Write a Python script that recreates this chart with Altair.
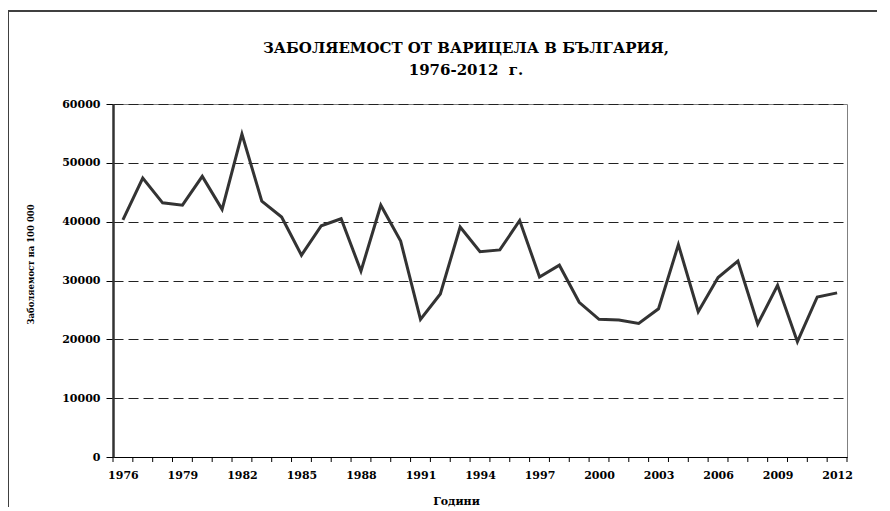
import altair as alt
import pandas as pd

years = list(range(1976, 2013))
incidence = [40300, 47400, 43200, 42800, 47700, 42100, 54900, 43500, 40800, 34300,
             39300, 40500, 31600, 42800, 36700, 23400, 27700, 39100, 34900, 35200,
             40200, 30600, 32600, 26300, 23400, 23300, 22700, 25200, 36100, 24700,
             30500, 33300, 22600, 29200, 19600, 27200, 27900]
label_years = list(range(1976, 2013, 3))
y_ticks = [0, 10000, 20000, 30000, 40000, 50000, 60000]

title_lines = ["ЗАБОЛЯЕМОСТ ОТ ВАРИЦЕЛА В БЪЛГАРИЯ,", "1976-2012\u00a0\u00a0г."]
y_title = "Заболяемост на 100 000"
x_title = "Години"

df = pd.DataFrame({"year": years, "value": incidence})
tick_df = pd.DataFrame({"pos": [y - 0.5 for y in years] + [years[-1] + 0.5]})
FONT = "DejaVu Serif"

x_scale = alt.Scale(domain=[1975.5, 2012.5], nice=False, zero=False)

x_axis = alt.Axis(
    values=label_years, format="d", ticks=False,
    labelOverlap=False, labelFlush=False,
    labelFont=FONT, labelFontWeight="bold", labelFontSize=11, labelColor="black",
    labelPadding=12, domainColor="black", domainWidth=1, grid=False,
    title=x_title, titleFont=FONT, titleFontWeight="bold", titleFontSize=11,
    titleX=343, titleY=38, titleBaseline="top", titleAnchor="middle",
)

y_axis = alt.Axis(
    values=y_ticks, format="d",
    labelFont=FONT, labelFontWeight="bold", labelFontSize=11, labelColor="black",
    labelPadding=6, tickSize=7, tickColor="black", domainColor="#333333",
    domainWidth=2.5,
    grid=True, gridDash=[10, 5], gridColor="#222222", gridWidth=1,
    title=y_title, titleFont=FONT, titleFontWeight="bold", titleFontSize=8.5,
    titleAngle=-90, titleX=-78, titleY=160, titleAlign="center",
)

line = alt.Chart(df).mark_line(color="#333333", strokeWidth=3).encode(
    x=alt.X("year:Q", scale=x_scale, axis=x_axis),
    y=alt.Y("value:Q", scale=alt.Scale(domain=[0, 60000], nice=False), axis=y_axis),
)

xticks = alt.Chart(tick_df).mark_rule(color="black", strokeWidth=1).encode(
    x=alt.X("pos:Q", scale=x_scale),
    y=alt.value(353), y2=alt.value(358),
)

frame_df = pd.DataFrame({"k": [0]})
frame_left = alt.Chart(frame_df).mark_rule(color="#404040", strokeWidth=2).encode(
    x=alt.value(-105), y=alt.value(-93), y2=alt.value(420)
)
frame_top = alt.Chart(frame_df).mark_rule(color="#404040", strokeWidth=2).encode(
    x=alt.value(-105), x2=alt.value(800), y=alt.value(-93)
)

chart = alt.layer(line, xticks, frame_left, frame_top).properties(
    width=734, height=353,
    title=alt.TitleParams(
        text=title_lines, font=FONT, fontWeight="bold", fontSize=15, color="black",
        lineHeight=22, anchor="middle", dx=-14, offset=-68,
    ),
    autosize=alt.AutoSizeParams(type="none"),
    padding={"left": 105, "top": 96, "right": 30, "bottom": 50},
).configure_view(stroke="#808080", strokeWidth=1)

chart.save("out.html", embed_options={"renderer": "svg", "actions": False})
